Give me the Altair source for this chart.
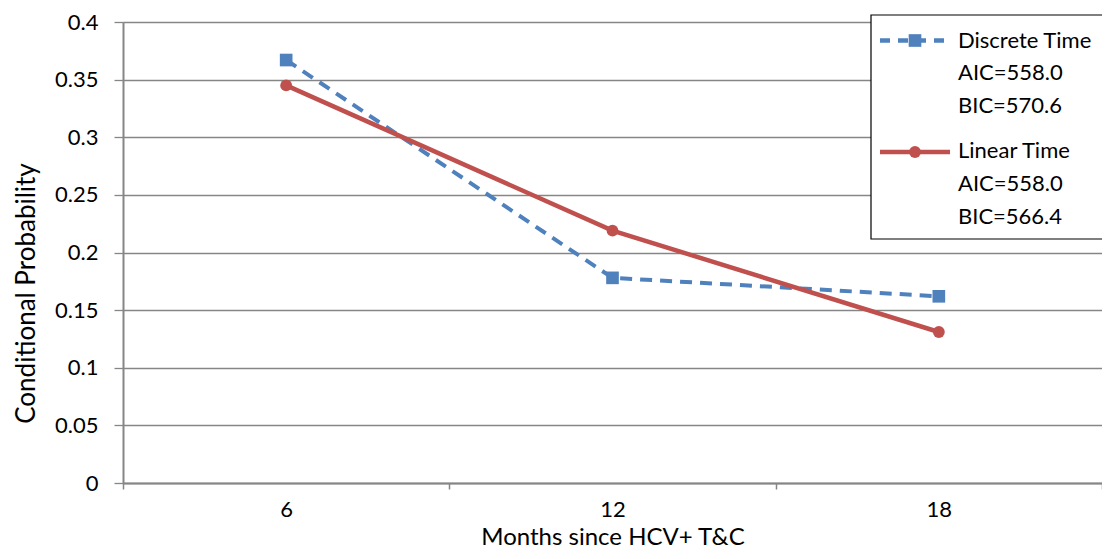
import altair as alt
import pandas as pd

months = ["6", "12", "18"]
discrete = [0.367, 0.178, 0.162]
linear = [0.345, 0.219, 0.131]
legend_discrete = ["Discrete Time", "AIC=558.0", "BIC=570.6"]
legend_linear = ["Linear Time", "AIC=558.0", "BIC=566.4"]
y_ticks = [0, 0.05, 0.1, 0.15, 0.2, 0.25, 0.3, 0.35, 0.4]

BLUE = "#4F81BD"
RED = "#C0504D"
GRAY = "#868686"
FONT = "Lato"

W, H = 979, 461

df = pd.DataFrame({
    "month": months * 2,
    "p": discrete + linear,
    "series": ["Discrete Time"] * 3 + ["Linear Time"] * 3,
})

x = alt.X("month:N", sort=months,
          scale=alt.Scale(type="band", paddingInner=0, paddingOuter=0),
          axis=alt.Axis(title="Months since HCV+ T&C", labelAngle=0, tickBand="extent",
                        grid=False, domainColor=GRAY, domainWidth=2, tickColor=GRAY,
                        tickWidth=1.5, tickSize=6, labelPadding=27,
                        labelBaseline="alphabetic", labelFontSize=22,
                        labelFont=FONT, labelColor="black", titleFont=FONT,
                        titleFontSize=24, titleFontWeight="normal", titleColor="black",
                        titleBaseline="alphabetic", titlePadding=0, titleY=61))
y = alt.Y("p:Q", scale=alt.Scale(domain=[0, 0.4], nice=False, zero=True),
          axis=alt.Axis(values=y_ticks, format=".2~f", title="Conditional Probability",
                        grid=True, gridColor=GRAY, gridWidth=1.3, domainColor=GRAY,
                        domainWidth=2, tickColor=GRAY, tickWidth=1.3, tickSize=9,
                        labelPadding=16, labelFontSize=22, labelFont=FONT,
                        labelColor="black", titleFont=FONT, titleFontSize=26,
                        titleFontWeight="normal", titleColor="black",
                        titleBaseline="middle", titleX=-97, titleY=271))

base = alt.Chart(df).encode(x=x, y=y)

d_line = base.transform_filter(alt.datum.series == "Discrete Time").mark_line(
    color=BLUE, strokeWidth=4, strokeDash=[12, 8])
d_pts = base.transform_filter(alt.datum.series == "Discrete Time").mark_point(
    shape="square", filled=True, size=160, color=BLUE, opacity=1)
l_line = base.transform_filter(alt.datum.series == "Linear Time").mark_line(
    color=RED, strokeWidth=4.5)
l_pts = base.transform_filter(alt.datum.series == "Linear Time").mark_point(
    shape="circle", filled=True, size=140, color=RED, opacity=1)

one = pd.DataFrame({"k": [0]})
leg_box = alt.Chart(one).mark_rect(fill="white", stroke="black", strokeWidth=1.2).encode(
    x=alt.value(748), x2=alt.value(W + 10), y=alt.value(-7), y2=alt.value(217))
leg_d_line = alt.Chart(one).mark_rule(color=BLUE, strokeWidth=4.5, strokeDash=[10, 8]).encode(
    x=alt.value(757), x2=alt.value(827), y=alt.value(18.5))
leg_d_pt = alt.Chart(one).mark_point(shape="square", filled=True, size=160, color=BLUE, opacity=1).encode(
    x=alt.value(792), y=alt.value(18.5))
leg_l_line = alt.Chart(one).mark_rule(color=RED, strokeWidth=4.5).encode(
    x=alt.value(757), x2=alt.value(827), y=alt.value(130))
leg_l_pt = alt.Chart(one).mark_point(shape="circle", filled=True, size=140, color=RED, opacity=1).encode(
    x=alt.value(792), y=alt.value(130))

texts = []
for lbl, yy in zip(legend_discrete + legend_linear, [26, 58, 91, 136, 169, 202]):
    texts.append(alt.Chart(one).mark_text(align="left", baseline="alphabetic", font=FONT,
                                          fontSize=22, color="black").encode(
        x=alt.value(835), y=alt.value(yy), text=alt.value(lbl)))

chart = alt.layer(d_line, l_line, d_pts, l_pts, leg_box, leg_d_line, leg_d_pt,
                  leg_l_line, leg_l_pt, *texts).properties(
    width=W, height=H,
    padding={"left": 115, "top": 14, "right": 0, "bottom": 68},
    autosize=alt.AutoSizeParams(type="none"),
).configure_view(stroke=None).configure(background="white")

chart.save("out.html", embed_options={"renderer": "svg", "actions": False})
